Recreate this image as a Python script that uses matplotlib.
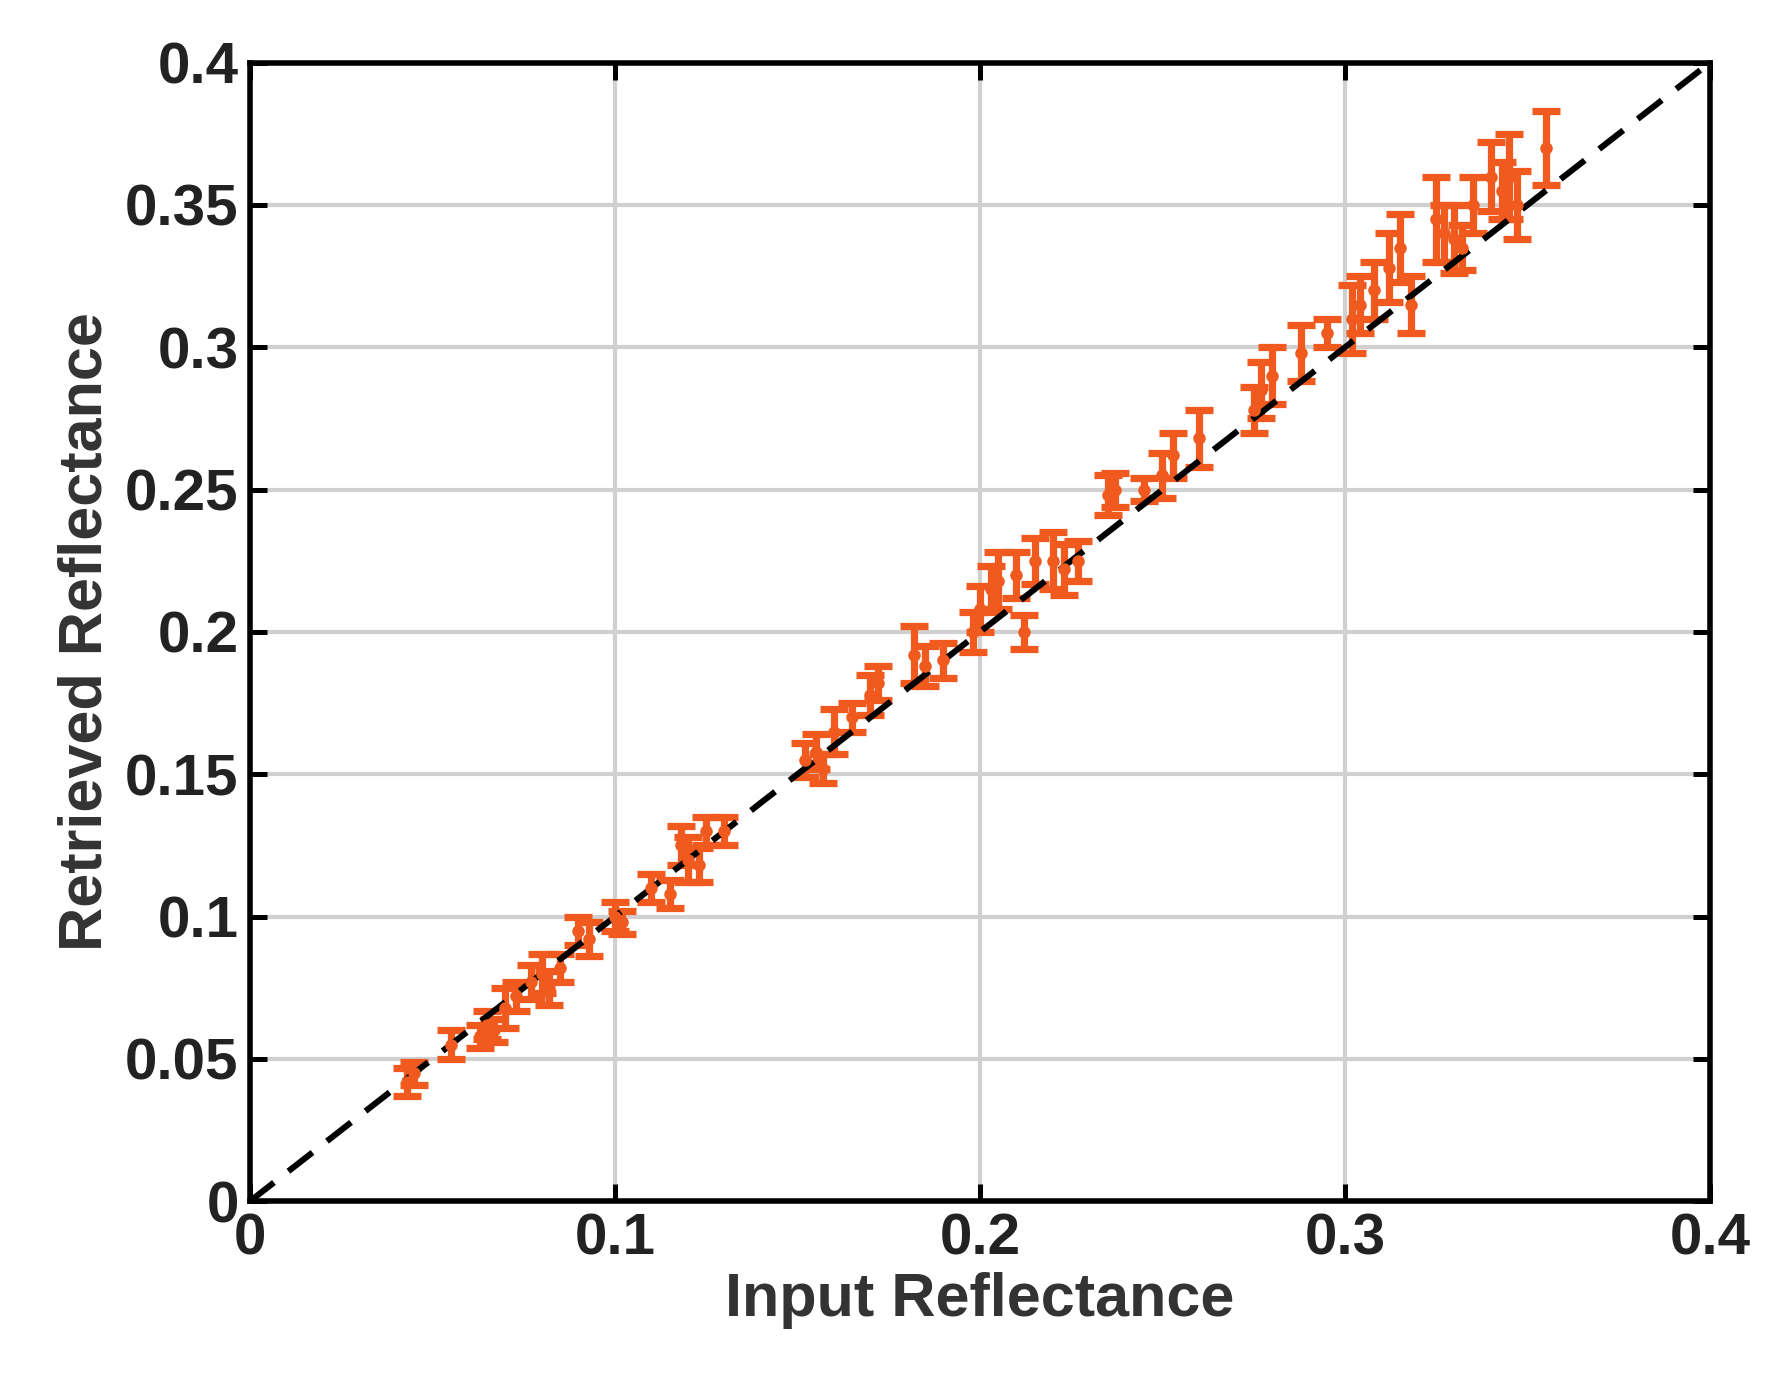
import matplotlib
matplotlib.use("Agg")
import matplotlib.pyplot as plt
import numpy as np

x_in = [0.043,0.045,0.055,0.063,0.065,0.067,0.070,0.073,0.077,0.080,0.082,0.085,0.090,0.093,0.100,0.102,0.110,0.115,0.118,0.120,0.123,0.125,0.130,0.152,0.155,0.157,0.160,0.165,0.170,0.172,0.182,0.185,0.190,0.198,0.200,0.203,0.205,0.210,0.212,0.215,0.220,0.223,0.227,0.235,0.237,0.245,0.250,0.253,0.260,0.275,0.277,0.280,0.288,0.295,0.302,0.304,0.308,0.312,0.315,0.318,0.325,0.327,0.330,0.332,0.335,0.340,0.343,0.345,0.347,0.355]
y_ret = [0.042,0.045,0.055,0.058,0.062,0.060,0.068,0.072,0.077,0.080,0.075,0.082,0.095,0.092,0.100,0.098,0.110,0.108,0.125,0.120,0.118,0.130,0.130,0.155,0.158,0.152,0.165,0.170,0.178,0.182,0.192,0.188,0.190,0.200,0.208,0.215,0.218,0.220,0.200,0.225,0.225,0.222,0.225,0.248,0.250,0.250,0.255,0.262,0.268,0.278,0.285,0.290,0.298,0.305,0.310,0.315,0.320,0.328,0.335,0.315,0.345,0.340,0.338,0.335,0.350,0.360,0.355,0.360,0.350,0.370]
y_err = [0.005,0.004,0.005,0.004,0.005,0.004,0.007,0.005,0.006,0.007,0.006,0.005,0.005,0.006,0.005,0.004,0.005,0.005,0.007,0.008,0.006,0.005,0.005,0.006,0.006,0.005,0.008,0.005,0.007,0.006,0.010,0.007,0.006,0.007,0.008,0.008,0.010,0.008,0.006,0.008,0.010,0.009,0.007,0.007,0.006,0.004,0.008,0.008,0.010,0.008,0.010,0.010,0.010,0.005,0.012,0.010,0.010,0.012,0.012,0.010,0.015,0.010,0.012,0.008,0.010,0.012,0.010,0.015,0.012,0.013]

plt.rcParams['font.family'] = ['Liberation Sans', 'DejaVu Sans']
plt.rcParams['font.weight'] = 'bold'
fig = plt.figure(figsize=(8.86, 6.96), dpi=200)
ax = fig.add_axes([0.141, 0.137, 0.824, 0.818])
ax.grid(True, color='#d0d0d0', lw=1.5)
ax.set_axisbelow(True)
ax.errorbar(x_in, y_ret, yerr=y_err, fmt='o', ms=3.5, color='#F05A1E', ecolor='#F05A1E', elinewidth=2.6, capsize=5, capthick=2.6)
ax.plot([0, 0.4], [0, 0.4], 'k--', lw=2.2, dashes=(5, 3))
ax.set_xlim(0, 0.4); ax.set_ylim(0, 0.4)
ax.set_xticks([0, 0.1, 0.2, 0.3, 0.4]); ax.set_xticklabels(['0', '0.1', '0.2', '0.3', '0.4'])
ax.set_yticks(np.arange(0, 0.401, 0.05)); ax.set_yticklabels(['0', '0.05', '0.1', '0.15', '0.2', '0.25', '0.3', '0.35', '0.4'])
ax.tick_params(labelsize=21, direction='in', length=6, width=1.8, top=True, right=True, pad=4)
for s in ax.spines.values():
    s.set_linewidth(2)
ax.set_xlabel('Input Reflectance', fontsize=22, fontweight='bold', color='#333333', labelpad=2)
ax.set_ylabel('Retrieved Reflectance', fontsize=22, fontweight='bold', color='#333333', labelpad=4)
for t in ax.get_xticklabels() + ax.get_yticklabels():
    t.set_fontweight('bold'); t.set_color('#222222')
fig.savefig('out.png', dpi=200)
